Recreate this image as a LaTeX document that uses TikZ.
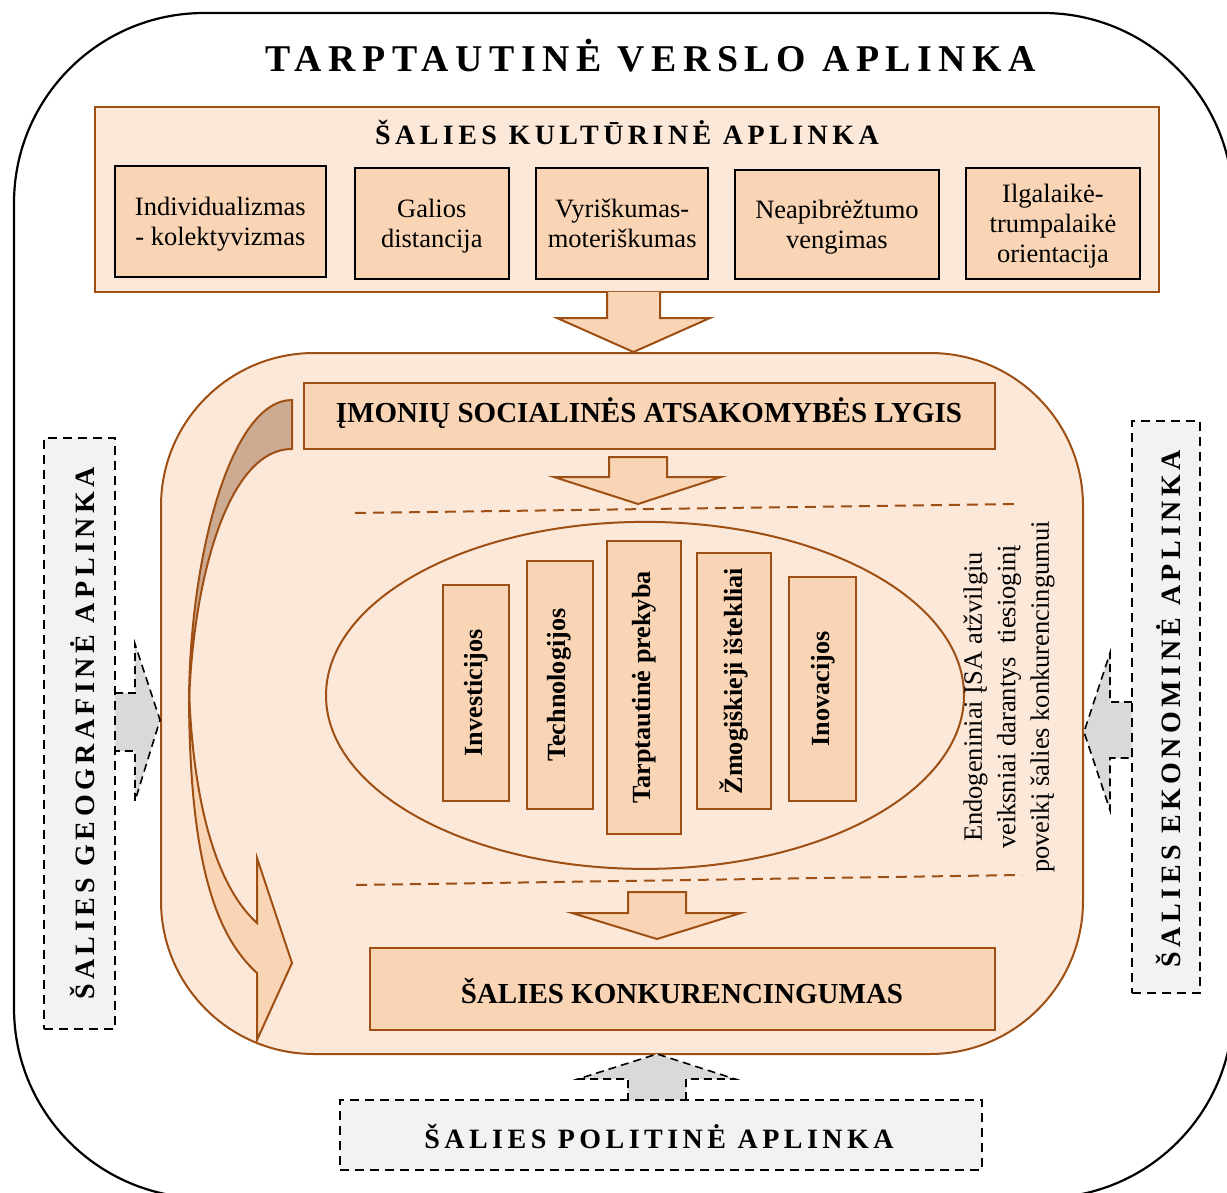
\documentclass[tikz,border=0pt]{standalone}
\usepackage{fontspec}
\setmainfont{Liberation Serif}
\newfontfamily\spacedfont[LetterSpace=16]{Liberation Serif}
\newfontfamily\titlespaced[LetterSpace=17.5]{Liberation Serif}
\usetikzlibrary{shapes.geometric}

\definecolor{brownline}{RGB}{158,80,20}
\definecolor{peachlight}{RGB}{252,232,217}
\definecolor{peachmid}{RGB}{250,213,181}
\definecolor{foldtan}{RGB}{205,171,147}
\definecolor{envgray}{RGB}{242,242,242}
\definecolor{arrowgray}{RGB}{217,217,217}

\newcommand{\titlefnt}{\titlespaced\bfseries\fontsize{37.8}{42}\selectfont}
\newcommand{\envfnt}{\spacedfont\bfseries\fontsize{28}{32}\selectfont}
\newcommand{\levelfnt}{\bfseries\fontsize{29}{33}\selectfont}
\newcommand{\factorfnt}{\bfseries\fontsize{26.2}{30}\selectfont}
\newcommand{\dimfnt}{\fontsize{26.5}{30}\selectfont}
\newcommand{\notefnt}{\fontsize{26.5}{33.5}\selectfont}

\begin{document}
\begin{tikzpicture}[x=1pt,y=1pt,yscale=-1,xscale=1,
  culturebox/.style={draw=brownline,line width=2pt,fill=peachlight,inner sep=0pt},
  dimbox/.style={draw=black,line width=2pt,fill=peachmid,inner sep=0pt,align=center,font=\dimfnt,text depth=-4pt},
  peachbox/.style={draw=brownline,line width=2pt,fill=peachmid,inner sep=0pt},
  factorbox/.style={peachbox,rotate=90,font=\factorfnt},
  envbox/.style={draw=black,line width=2pt,dash pattern=on 9pt off 6pt,fill=envgray,inner sep=0pt,font=\envfnt},
  envarrow/.style={draw=black,line width=1.6pt,dash pattern=on 8pt off 5pt,fill=arrowgray},
  blockarrow/.style={draw=brownline,line width=2pt,fill=peachmid,line join=miter},
  divider/.style={draw=brownline,line width=2pt,dash pattern=on 11pt off 7pt}]
\useasboundingbox (0,0) rectangle (1227,1193);
\clip (0,0) rectangle (1227,1193);

%Rounded Rect [outer frame]
\draw [line width=2.2pt,rounded corners=190pt] (14,13) rectangle (1233,1198);
% Text Node
\node (envtitle) [anchor=base,font=\titlefnt,inner sep=0pt] at (651,72) {TARPTAUTINĖ VERSLO APLINKA};

%Shape: Rectangle [culture]
\node (culture) [culturebox,minimum width=1064pt,minimum height=185pt] at (627,199.5) {};
% Text Node
\node (culturetitle) [anchor=base,font=\envfnt,inner sep=0pt] at (627,145) {ŠALIES KULTŪRINĖ APLINKA};
\node (indiv) [dimbox,minimum width=211.4pt,minimum height=111pt] at (220.3,221.2) {Individualizmas\\- kolektyvizmas};
\node (galios) [dimbox,minimum width=154.5pt,minimum height=111pt] at (431.8,223.5) {Galios\\distancija};
\node (vyrisk) [dimbox,minimum width=171.6pt,minimum height=111pt] at (622.2,223.5) {Vyriškumas-\\moteriškumas};
\node (neapib) [dimbox,minimum width=204pt,minimum height=109.3pt] at (837,224.7) {Neapibrėžtumo\\vengimas};
\node (ilgalaik) [dimbox,minimum width=174pt,minimum height=111.3pt] at (1053,223.7) {Ilgalaikė-\\trumpalaikė\\orientacija};

%Shape: Down Arrow
\draw [blockarrow] (607,292) -- (607,318) -- (557,318) -- (633.5,352) -- (710,318) -- (660,318) -- (660,292);

%Rounded Rect [main]
\node (mainbox) [culturebox,rounded corners=153pt,minimum width=922pt,minimum height=701pt] at (622,703.5) {};

%Curve Lines [curved arrow, back fold]
\draw [draw=brownline,line width=2pt,fill=foldtan] (292,400) .. controls (230,400) and (189,560) .. (189,705) .. controls (192,590) and (225,449) .. (292,449) -- cycle;
%Curve Lines [curved arrow, front]
\draw [blockarrow] (189,690) .. controls (189,860) and (215,935) .. (257,973) -- (257,1040) -- (292,963) -- (257,858) -- (257,923) .. controls (215,885) and (193,800) .. (189,690) -- cycle;

%Shape: Rectangle [csr level]
\node (csrlevel) [peachbox,minimum width=690.8pt,minimum height=65.7pt] at (649.4,416.2) {};
\node [anchor=base,font=\levelfnt,inner sep=0pt] at (649,422) {ĮMONIŲ SOCIALINĖS ATSAKOMYBĖS LYGIS};

%Shape: Down Arrow
\draw [blockarrow] (609,457) -- (667,457) -- (667,477) -- (721,477) -- (638,504) -- (554,477) -- (609,477) -- cycle;

%Straight Lines
\draw [divider] (355,513) -- (1019,504);
\draw [divider] (356,885) -- (1022,875);

%Shape: Ellipse
\node (factorset) [ellipse,draw=brownline,line width=2pt,fill=peachlight,inner sep=0pt,minimum width=638pt,minimum height=347pt] at (645,695.4) {};

%Shape: Rectangle [factors]
\node (invest) [factorbox,minimum width=215.7pt,minimum height=66.6pt] at (476,692.9) {Investicijos};
\node (techno) [factorbox,minimum width=248.3pt,minimum height=66pt] at (559.7,685.2) {Technologijos};
\node (trade) [factorbox,minimum width=293.3pt,minimum height=74.3pt] at (643.9,687.4) {Tarptautinė prekyba};
\node (human) [factorbox,minimum width=256.3pt,minimum height=74.6pt] at (734,681.2) {Žmogiškieji ištekliai};
\node (innov) [factorbox,minimum width=223.4pt,minimum height=66.7pt] at (822.7,689) {Inovacijos};

% Text Node
\node (endonote) [rotate=90,align=center,font=\notefnt,inner sep=0pt] at (1009,697) {Endogeniniai ĮSA atžvilgiu\\veiksniai darantys\ \ tiesioginį\\poveikį šalies konkurencingumui};

%Shape: Down Arrow
\draw [blockarrow] (628,892) -- (686,892) -- (686,913) -- (741,913) -- (657,939) -- (572,913) -- (628,913) -- cycle;

%Shape: Rectangle [competitiveness]
\node (competit) [peachbox,minimum width=625pt,minimum height=82pt] at (682.5,989) {};
\node [anchor=base,font=\levelfnt,inner sep=0pt] at (682,1003) {ŠALIES KONKURENCINGUMAS};

%Shape: Block Arrows [outside influences]
\draw [envarrow] (115,693) -- (135,693) -- (135,644) -- (160,720) -- (135,801) -- (135,751) -- (115,751);
\draw [envarrow] (1132,702) -- (1110,702) -- (1110,653) -- (1084,732) -- (1110,810) -- (1110,758) -- (1132,758);
\draw [envarrow] (628,1101) -- (628,1079) -- (578,1079) -- (657,1054) -- (735,1079) -- (686,1079) -- (686,1101);

%Shape: Rectangle [environments]
\node (geoenv) [envbox,minimum width=71pt,minimum height=591pt] at (79.5,733.5) {};
\node [anchor=base,rotate=90,font=\envfnt,inner sep=0pt] at (94,733.5) {ŠALIES GEOGRAFINĖ APLINKA};
\node (econenv) [envbox,minimum width=68pt,minimum height=572pt] at (1166,707) {};
\node [anchor=base,rotate=90,font=\envfnt,inner sep=0pt] at (1180,708.5) {ŠALIES EKONOMINĖ APLINKA};
\node (polenv) [envbox,minimum width=642pt,minimum height=70pt] at (661,1135) {};
\node [anchor=base,font=\envfnt,inner sep=0pt] at (659,1148) {ŠALIES POLITINĖ APLINKA};
\end{tikzpicture}
\end{document}
